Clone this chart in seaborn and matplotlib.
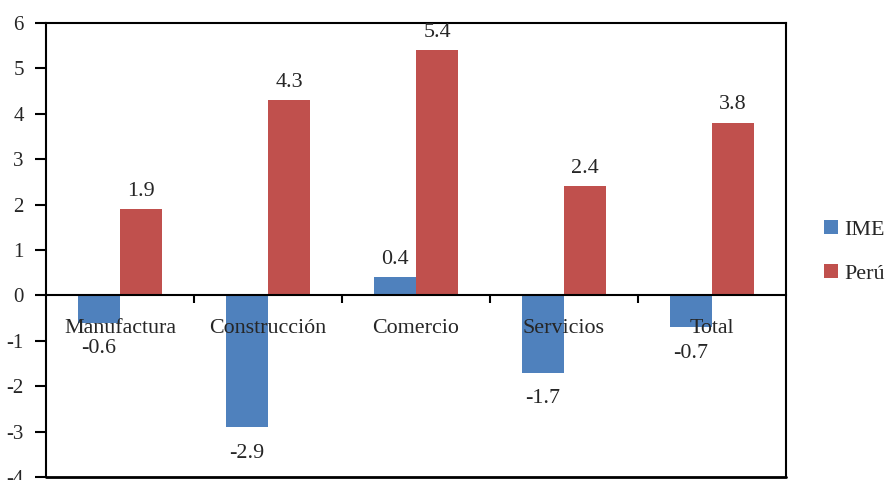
import matplotlib
matplotlib.use("Agg")
import matplotlib.pyplot as plt
import seaborn as sns
import pandas as pd

sectores = ["Manufactura", "Construcción", "Comercio", "Servicios", "Total"]
ime = [-0.6, -2.9, 0.4, -1.7, -0.7]
peru = [1.9, 4.3, 5.4, 2.4, 3.8]
series = ["IME", "Perú"]
colores = ["#4F81BD", "#C0504D"]
yticks = [-4, -3, -2, -1, 0, 1, 2, 3, 4, 5, 6]

df = pd.DataFrame({
    "sector": sectores * 2,
    "serie": [series[0]] * len(sectores) + [series[1]] * len(sectores),
    "valor": ime + peru,
})

sns.set_theme(style="white")
plt.rcParams["font.family"] = ["Liberation Serif", "DejaVu Serif"]

fig = plt.figure(figsize=(8.86, 4.8), dpi=100)
ax = fig.add_axes([46 / 886, 3 / 480, 740 / 886, 454 / 480])

sns.barplot(data=df, x="sector", y="valor", hue="serie", order=sectores,
            hue_order=series, palette=colores, width=0.57, gap=0,
            saturation=1, linewidth=0, ax=ax, legend=True)

ax.set_ylim(yticks[0], yticks[-1])
ax.set_xlim(-0.5, len(sectores) - 0.5)
ax.set_yticks(yticks)
ax.set_yticklabels([str(t) for t in yticks], fontsize=15)
ax.set_xlabel("")
ax.set_ylabel("")

# bottom spine sits on the zero line, with ticks between categories
ax.spines["bottom"].set_position(("data", 0))
ax.set_xticks([i + 0.5 for i in range(len(sectores) - 1)])
ax.set_xticklabels([])
ax.tick_params(axis="x", direction="out", length=6, width=1.5, color="black",
               bottom=True)
ax.tick_params(axis="y", direction="out", length=8, width=1.5, color="black",
               left=True, pad=8)
for s in ax.spines.values():
    s.set_color("black")
    s.set_linewidth(1.5)
# closing edge of the frame at the bottom
ax.plot([0, 1], [0, 0], transform=ax.transAxes, color="black", lw=2,
        clip_on=False, zorder=5)

# category names just below the zero line
for i, name in enumerate(sectores):
    ax.annotate(name, (i, 0), xytext=(0, -33), textcoords="offset pixels",
                ha="center", va="center", fontsize=15.8, zorder=6)

# value labels
for container in ax.containers:
    for bar in container:
        h = bar.get_height()
        x = bar.get_x() + bar.get_width() / 2
        off = 18 if h >= 0 else -26
        ax.annotate(f"{h:.1f}", (x, h), xytext=(0, off),
                    textcoords="offset pixels", ha="center", va="center",
                    fontsize=15.8, zorder=6)

ax.legend(handles=ax.get_legend().legend_handles, labels=series,
          loc="center left", bbox_to_anchor=(1.052, 0.495), frameon=False,
          fontsize=15.8, handlelength=0.6, handleheight=0.6,
          handletextpad=0.3, labelspacing=1.1, borderpad=0, borderaxespad=0)

fig.savefig("out.png", dpi=100)
